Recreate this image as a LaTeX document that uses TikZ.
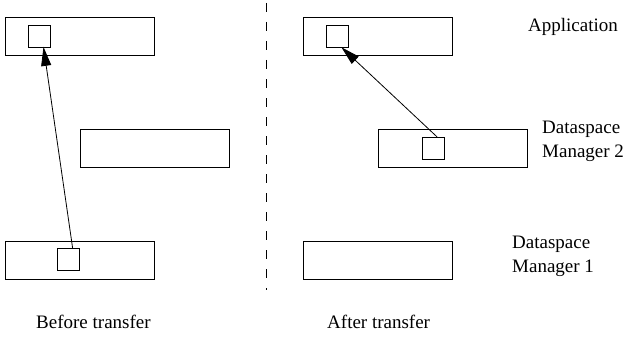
\documentclass[tikz,border=0pt]{standalone}
\usepackage{fontspec}
\setmainfont{Liberation Serif}
\usetikzlibrary{arrows.meta}
\begin{document}
\begin{tikzpicture}[x=1pt,y=-1pt,
  bigbox/.style={draw=black,line width=0.9pt,minimum width=149pt,minimum height=38pt,inner sep=0pt,anchor=north west},
  smallbox/.style={draw=black,line width=0.9pt,minimum width=22pt,minimum height=22pt,inner sep=0pt,anchor=north west},
  conn/.style={draw=black,line width=0.8pt,-{Triangle[length=19pt,width=10pt]},shorten >=-1pt},
  divider/.style={draw=black,line width=0.9pt,dash pattern=on 9pt off 10pt},
  lbl/.style={font=\fontsize{19}{24}\selectfont,inner sep=0pt,align=left}]
\useasboundingbox (0,0) rectangle (626,337);
% left side
\node[bigbox] (lt) at (5,17) {};
\node[bigbox] (lm) at (80,129) {};
\node[bigbox] (lb) at (5,241) {};
\node[smallbox] (lts) at (28,25) {};
\node[smallbox] (lbs) at (57,248) {};
% right side
\node[bigbox] (rt) at (303,17) {};
\node[bigbox] (rm) at (378,129) {};
\node[bigbox] (rb) at (303,241) {};
\node[smallbox] (rts) at (326,25) {};
\node[smallbox] (rms) at (422,137) {};
% connectors
\draw[conn] (lbs.70) -- (lts.-70);
\draw[conn] (rms.72) -- (rts.-68);
% divider
\coordinate (d1) at (266,3);
\coordinate (d2) at (266,290);
\draw[divider] (d1) -- (d2);
% labels
\node[lbl,anchor=base west] (app) at (528,32) {Application};
\node[lbl,anchor=north west] (dm2) at (542,121) {Dataspace\\Manager 2};
\node[lbl,anchor=north west] (dm1) at (512,236) {Dataspace\\Manager 1};
\node[lbl,anchor=base west] (before) at (36,328) {Before transfer};
\node[lbl,anchor=base west] (after) at (327,328) {After transfer};
\end{tikzpicture}
\end{document}
